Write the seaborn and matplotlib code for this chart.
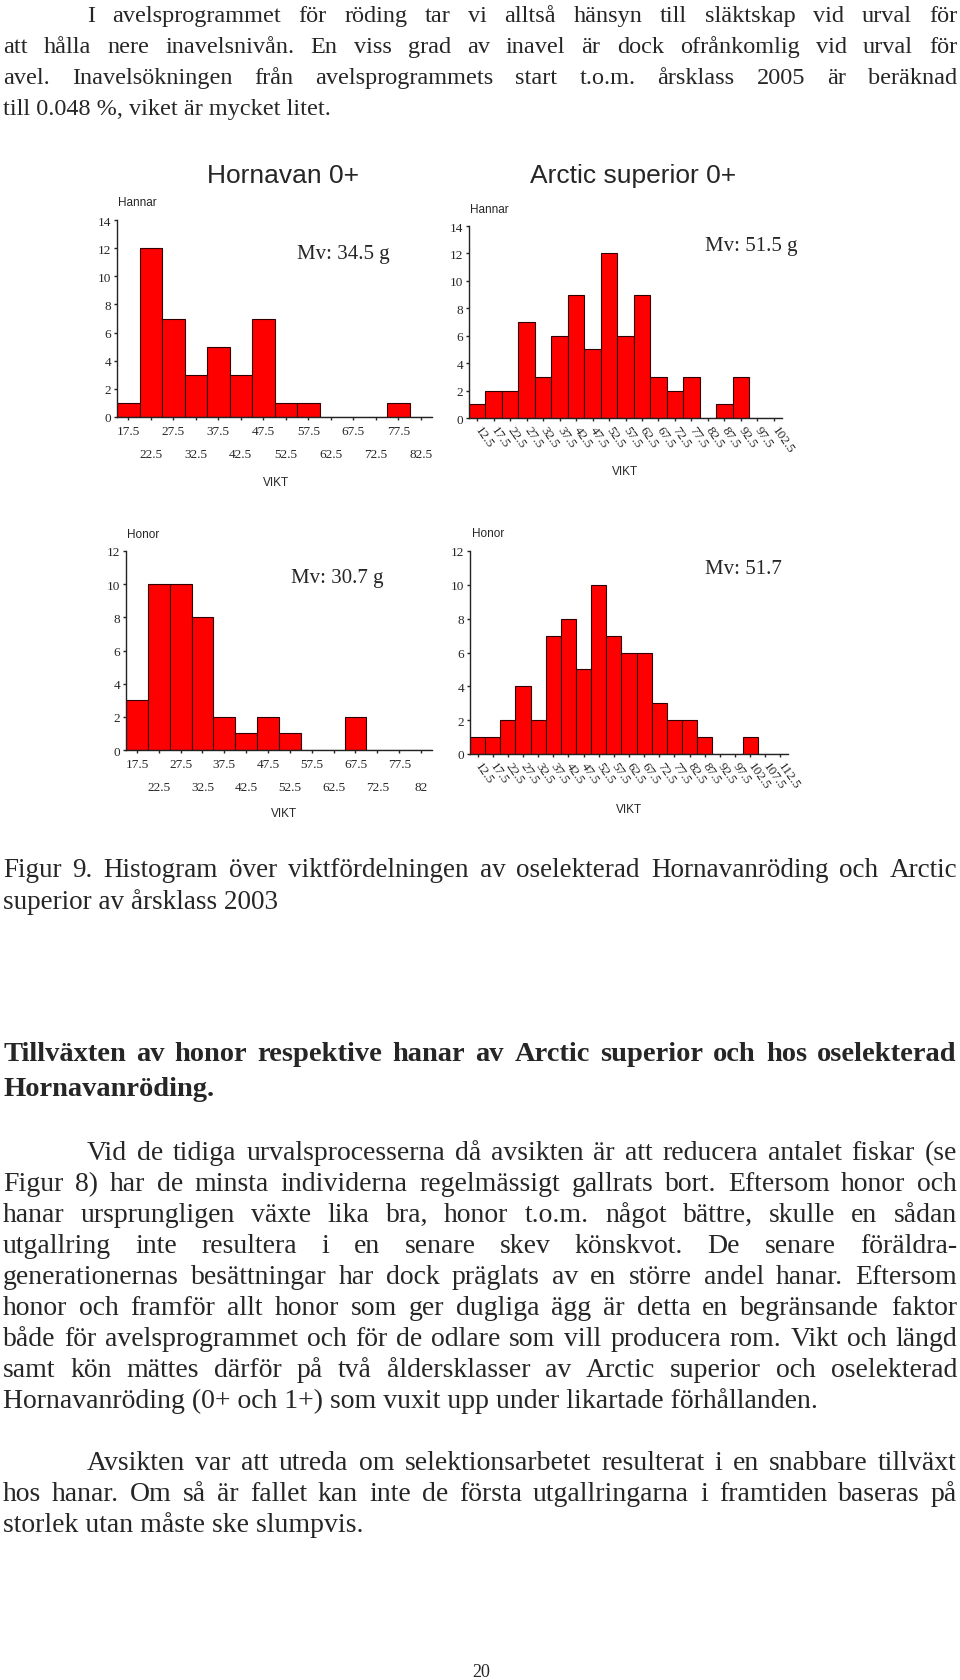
import numpy as np
import pandas as pd
import matplotlib
matplotlib.use("Agg")
import matplotlib.pyplot as plt
import seaborn as sns

# --- data ---
hornavan_centers = [17.5, 22.5, 27.5, 32.5, 37.5, 42.5, 47.5, 52.5, 57.5, 62.5, 67.5, 72.5, 77.5, 82.5]
hornavan_hannar = [1, 12, 7, 3, 5, 3, 7, 1, 1, 0, 0, 0, 1, 0]
hornavan_honor = [3, 10, 10, 8, 2, 1, 2, 1, 0, 0, 2, 0, 0, 0]

arctic_hannar_centers = [12.5, 17.5, 22.5, 27.5, 32.5, 37.5, 42.5, 47.5, 52.5, 57.5,
                         62.5, 67.5, 72.5, 77.5, 82.5, 87.5, 92.5, 97.5, 102.5]
arctic_hannar = [1, 2, 2, 7, 3, 6, 9, 5, 12, 6, 9, 3, 2, 3, 0, 1, 3, 0, 0]

arctic_honor_centers = [12.5, 17.5, 22.5, 27.5, 32.5, 37.5, 42.5, 47.5, 52.5, 57.5, 62.5,
                        67.5, 72.5, 77.5, 82.5, 87.5, 92.5, 97.5, 102.5, 107.5, 112.5]
arctic_honor = [1, 1, 2, 4, 2, 7, 8, 5, 10, 7, 6, 6, 3, 2, 2, 1, 0, 0, 1, 0, 0]

hornavan_labels_hannar = ["17.5", "22.5", "27.5", "32.5", "37.5", "42.5", "47.5",
                          "52.5", "57.5", "62.5", "67.5", "72.5", "77.5", "82.5"]
hornavan_labels_honor = ["17.5", "22.5", "27.5", "32.5", "37.5", "42.5", "47.5",
                         "52.5", "57.5", "62.5", "67.5", "72.5", "77.5", "82"]

mv_texts = ["Mv: 34.5 g", "Mv: 51.5 g", "Mv: 30.7 g", "Mv: 51.7"]

para1 = ["I avelsprogrammet för röding tar vi alltså hänsyn till släktskap vid urval för",
         "att hålla nere inavelsnivån. En viss grad av inavel är dock ofrånkomlig vid urval för",
         "avel. Inavelsökningen från avelsprogrammets start t.o.m. årsklass 2005 är beräknad",
         "till 0.048 %, viket är mycket litet."]
caption = ["Figur 9. Histogram över viktfördelningen av oselekterad Hornavanröding och Arctic",
           "superior av årsklass 2003"]
heading = ["Tillväxten av honor respektive hanar av Arctic superior och hos oselekterad",
           "Hornavanröding."]
para2 = ["Vid de tidiga urvalsprocesserna då avsikten är att reducera antalet fiskar (se",
         "Figur 8) har de minsta individerna regelmässigt gallrats bort. Eftersom honor och",
         "hanar ursprungligen växte lika bra, honor t.o.m. något bättre, skulle en sådan",
         "utgallring inte resultera i en senare skev könskvot. De senare föräldra-",
         "generationernas besättningar har dock präglats av en större andel hanar. Eftersom",
         "honor och framför allt honor som ger dugliga ägg är detta en begränsande faktor",
         "både för avelsprogrammet och för de odlare som vill producera rom. Vikt och längd",
         "samt kön mättes därför på två åldersklasser av Arctic superior och oselekterad",
         "Hornavanröding (0+ och 1+) som vuxit upp under likartade förhållanden."]
para3 = ["Avsikten var att utreda om selektionsarbetet resulterat i en snabbare tillväxt",
         "hos hanar. Om så är fallet kan inte de första utgallringarna i framtiden baseras på",
         "storlek utan måste ske slumpvis."]

sns.set_style("ticks")
SERIF = ["Liberation Serif", "DejaVu Serif"]
SANS = ["Liberation Sans", "DejaVu Sans"]
plt.rcParams["font.family"] = SERIF

W, H = 960, 1681
fig = plt.figure(figsize=(W / 100, H / 100), dpi=100)
renderer = fig.canvas.get_renderer()


def fx(px):
    return px / W


def fy(py):
    return 1 - py / H


def put_line(text, y, justify=True, indent=0, size=20, weight="normal", x0=3, x1=957):
    left = x0 + indent
    base = y + 0.28 * size / 0.72
    if not justify:
        fig.text(fx(left), fy(base), text, fontsize=size, fontweight=weight,
                 family=SERIF, va="baseline", ha="left")
        return
    words = text.split()
    objs = [fig.text(0, fy(base), w, fontsize=size, fontweight=weight,
                     family=SERIF, va="baseline", ha="left") for w in words]
    widths = [o.get_window_extent(renderer).width for o in objs]
    gap = (x1 - left - sum(widths)) / max(len(words) - 1, 1)
    min_gap = 0.2 * size / 0.72
    if gap < min_gap:
        # squeeze the line a little if the words do not fit
        scale = (x1 - left - min_gap * (len(words) - 1)) / sum(widths)
        for o in objs:
            o.set_fontsize(size * scale)
        widths = [o.get_window_extent(renderer).width for o in objs]
        gap = (x1 - left - sum(widths)) / max(len(words) - 1, 1)
    x = left
    for o, w in zip(objs, widths):
        o.set_x(fx(x))
        x += w + gap


def paragraph(lines, y0, step, indent_first=True, last_left=True, **kw):
    for i, line in enumerate(lines):
        last = i == len(lines) - 1
        put_line(line, y0 + i * step, justify=not (last and last_left),
                 indent=84 if (i == 0 and indent_first) else 0, **kw)


# --- body text ---
paragraph(para1, 15, 31, size=17.5)
paragraph(caption, 869, 32, indent_first=False, size=19.5)
paragraph(heading, 1053, 35, indent_first=False, weight="bold", size=20.5)
paragraph(para2, 1152, 31, size=20)
paragraph(para3, 1462, 31, size=20)
fig.text(fx(481), fy(1673), "20", fontsize=13, family=SERIF, ha="center", va="center")

# --- histograms ---
panels = [
    # centers, counts, (left, right, y0px, ytop_px), ymax, label, label pos, mv pos, vikt pos, rotated, labels
    (hornavan_centers, hornavan_hannar, (117, 432, 418, 221), 14, "Hannar", (118, 203), (343, 255), (276, 483), False, hornavan_labels_hannar),
    (arctic_hannar_centers, arctic_hannar, (469, 782, 419, 227), 14, "Hannar", (470, 210), (751, 247), (625, 472), True, None),
    (hornavan_centers, hornavan_honor, (126, 432, 751, 552), 12, "Honor", (127, 535), (337, 579), (284, 814), False, hornavan_labels_honor),
    (arctic_honor_centers, arctic_honor, (470, 788, 755, 552), 12, "Honor", (472, 534), (743, 569), (629, 810), True, None),
]

for k, (centers, counts, box, ymax, who, who_xy, mv_xy, vikt_xy, rotated, labels) in enumerate(panels):
    left, right, ybot, ytop = box
    ax = fig.add_axes([fx(left), fy(ybot), (right - left) / W, (ybot - ytop) / H])
    df = pd.DataFrame({"vikt": centers, "antal": counts})
    lo, hi = centers[0] - 2.5, centers[-1] + 2.5
    sns.histplot(data=df, x="vikt", weights="antal", binwidth=5, binrange=(lo, hi),
                 ax=ax, color="#ff0000", edgecolor="#300000", linewidth=0.8, alpha=1)
    ax.set_xlim(lo, hi)
    ax.set_ylim(0, ymax)
    ax.set_ylabel("")
    ax.set_xlabel("")
    ax.set_yticks(range(0, ymax + 1, 2))
    sns.despine(ax=ax)
    for sp in ["left", "bottom"]:
        ax.spines[sp].set_linewidth(1.0)
        ax.spines[sp].set_color("#222222")
    ax.tick_params(axis="y", length=2.5, width=1, pad=1.5, labelsize=9.5)
    for t in ax.get_yticklabels():
        t.set_family(SERIF)

    if not rotated:
        ax.set_xticks(centers[0::2])
        ax.set_xticklabels(labels[0::2], family=SERIF)
        ax.set_xticks(centers[1::2], minor=True)
        ax.set_xticklabels(labels[1::2], minor=True, family=SERIF)
        ax.tick_params(axis="x", which="major", length=2.5, width=1, pad=3.5, labelsize=9.5)
        ax.tick_params(axis="x", which="minor", length=2.5, width=1, pad=20, labelsize=9.5)
    else:
        ax.set_xticks(centers)
        ax.set_xticklabels([f"{c:g}" for c in centers], rotation=-55, ha="left",
                           va="center", rotation_mode="anchor", family=SERIF)
        ax.tick_params(axis="x", length=2.5, width=1, pad=4, labelsize=9.5)

    fig.text(fx(vikt_xy[0]), fy(vikt_xy[1]), "VIKT", family=SANS, fontsize=8.5,
             ha="center", va="center")
    fig.text(fx(who_xy[0]), fy(who_xy[1]), who, family=SANS, fontsize=8.5,
             ha="left", va="center")
    fig.text(fx(mv_xy[0]), fy(mv_xy[1]), mv_texts[k], family=SERIF, fontsize=15,
             ha="center", va="center")

fig.text(fx(283), fy(176), "Hornavan 0+", family=SANS, fontsize=19, ha="center", va="center")
fig.text(fx(633), fy(176), "Arctic superior 0+", family=SANS, fontsize=19, ha="center", va="center")

fig.savefig("out.png", dpi=100)
